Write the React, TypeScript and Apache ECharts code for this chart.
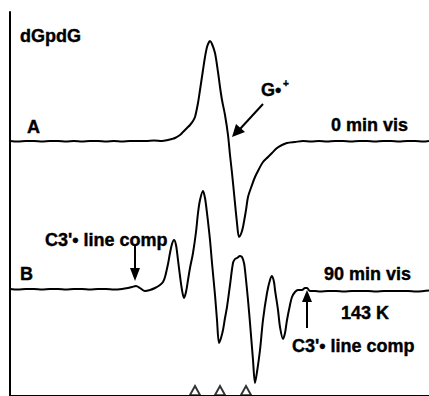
import React, { useEffect, useRef } from "react";
import * as echarts from "echarts";

// Field axis (a.u.) and signal amplitude
const fieldA = [0, 8, 16, 24, 32, 40, 48, 56, 64, 72, 80, 88, 96, 104, 112, 120, 128, 136, 144, 152, 158, 162, 165, 170, 173, 177, 180, 183, 185, 188, 190, 193, 195, 197, 199, 200, 202, 205, 208, 210, 212, 215, 218, 220, 222, 224, 227, 229, 231, 233, 236, 238, 242, 245, 249, 253, 258, 262, 267, 272, 277, 285, 293, 301, 309, 317, 325, 333, 341, 349, 357, 365, 373, 381, 389, 397, 405, 413, 419];
const signalA = [0, -0.6, 0, 0, -0.6, 0, 0, -0.6, 0, -0.6, 0, 0, -0.6, 0, -0.6, 0, 0, 0, 0.6, 0, 1, 2, 3, 6, 9, 13, 16, 20, 24, 38, 51, 71, 84, 94, 99, 100, 97, 88, 69, 54, 41, 26, 6, -14, -32, -52, -82, -96, -93, -86, -69, -56, -44, -36, -28, -21, -16, -12, -7, -4, -2, -1, 0, -0.6, 0, -0.6, 0, 0, -0.6, 0, 0, -0.6, 0, 0, -0.6, 0, 0, -0.6, 0];

const fieldB = [0, 8, 16, 24, 32, 40, 48, 56, 64, 72, 80, 88, 96, 104, 112, 118, 122, 126, 130, 135, 140, 145, 150, 153, 155, 158, 160, 162, 164, 166, 168, 170, 172, 174, 176, 178, 180, 183, 186, 188, 190, 193, 195, 197, 200, 202, 205, 207, 209, 211, 213, 215, 217, 220, 223, 225, 227, 230, 232, 234, 235, 238, 240, 243, 245, 247, 250, 253, 257, 260, 262, 264, 265, 268, 270, 273, 275, 277, 280, 282, 285, 288, 292, 295, 297, 300, 305, 310, 318, 326, 334, 342, 350, 358, 366, 374, 382, 390, 398, 406, 414, 419];
const signalB = [0, -0.6, 0, 0, -0.6, 0, 0, -0.6, 0, 0, -0.6, 0, 0, -0.6, 0, 1, 2, 3, 1, -2, -1, 1, 4, 7, 12, 25, 36, 45, 49, 44, 29, 13, -1, -9, -3, 9, 21, 36, 57, 76, 89, 98, 91, 76, 49, 26, -6, -31, -54, -49, -41, -29, -18, 4, 26, 30, 31, 33, 32, 26, 19, -11, -34, -71, -94, -83, -61, -31, -4, 9, 13, 7, -1, -21, -38, -50, -44, -31, -16, -8, -3, -1, -1, 1, 1, -2, -2, -2.6, -2, -2, -2.6, -2, -2, -2, -2.6, -2, -2, -2, -2, -2.6, -2, -1.5];

const markerFields = [185, 210, 236];

const offsetA = 255;
const offsetB = 107;
const markerLevel = 5.5;

const FONT = "Arial, 'Liberation Sans', sans-serif";

export default function App() {
  const ref = useRef<HTMLDivElement>(null);
  useEffect(() => {
    if (!ref.current) return;
    const chart = echarts.init(ref.current, null, { renderer: "svg" });
    const txt = (x: number, y: number, text: string, size = 18) => ({
      type: "text",
      x,
      y,
      style: {
        text,
        fill: "#000",
        stroke: "#000",
        lineWidth: 0.4,
        font: `bold ${size}px ${FONT}`,
        textVerticalAlign: "middle",
      },
    });
    const line = (x1: number, y1: number, x2: number, y2: number) => ({
      type: "line",
      shape: { x1, y1, x2, y2 },
      style: { stroke: "#000", lineWidth: 2 },
    });
    const head = (pts: number[][]) => ({
      type: "polygon",
      shape: { points: pts },
      style: { fill: "#000" },
    });
    chart.setOption({
      animation: false,
      backgroundColor: "#fff",
      grid: { left: 10, right: 0, top: 12, bottom: 0 },
      xAxis: {
        type: "value",
        position: "top",
        min: 0,
        max: 419,
        axisLine: { show: true, lineStyle: { color: "#000", width: 2 } },
        axisTick: { show: false },
        axisLabel: { show: false },
        splitLine: { show: false },
      },
      yAxis: {
        type: "value",
        min: 0,
        max: 384,
        axisLine: { show: true, lineStyle: { color: "#000", width: 2 } },
        axisTick: { show: false },
        axisLabel: { show: false },
        splitLine: { show: false },
      },
      series: [
        {
          type: "line",
          data: fieldA.map((f, i) => [f, signalA[i] + offsetA]),
          showSymbol: false,
          smooth: 0.3,
          lineStyle: { color: "#000", width: 2 },
        },
        {
          type: "line",
          data: fieldB.map((f, i) => [f, signalB[i] + offsetB]),
          showSymbol: false,
          smooth: 0.3,
          lineStyle: { color: "#000", width: 2 },
        },
        {
          type: "scatter",
          clip: false,
          data: markerFields.map((f) => [f, markerLevel]),
          symbol: "triangle",
          symbolSize: [10, 9],
          itemStyle: { color: "#fff", borderColor: "#000", borderWidth: 1.8 },
        },
      ],
      graphic: [
        txt(20, 36, "dGpdG"),
        txt(27, 127, "A"),
        txt(261, 90, "G•"),
        txt(283, 83, "+", 10),
        txt(331, 125, "0 min vis"),
        txt(20, 274, "B"),
        txt(45, 240, "C3'• line comp"),
        txt(324, 274, "90 min vis"),
        txt(341, 313, "143 K"),
        txt(292, 346, "C3'• line comp"),
        line(263, 104, 240, 129),
        head([[232, 137], [236, 124], [245, 132]]),
        line(135, 246, 135, 270),
        head([[135, 281], [130, 268], [140, 268]]),
        line(307, 328, 307, 300),
        head([[307, 290], [302, 302], [312, 302]]),
      ],
    });
    return () => chart.dispose();
  }, []);
  return (
    <div
      ref={ref}
      style={{ position: "fixed", left: 0, top: 0, width: 429, height: 396 }}
    />
  );
}
